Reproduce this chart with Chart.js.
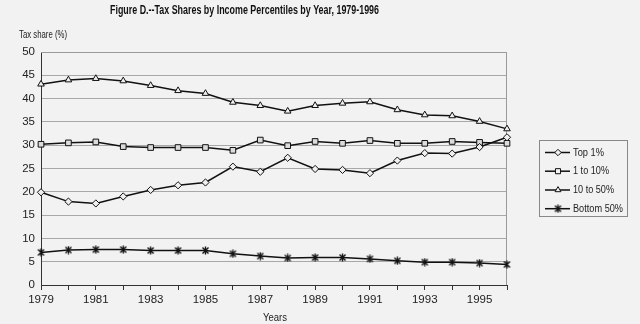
<!DOCTYPE html>
<html lang="en">
  <head>
    <meta charset="UTF-8" />
    <title>Tax Shares by Income Percentiles</title>
    <script src="https://cdn.jsdelivr.net/npm/chart.js"></script>
    <style>
      body {
        margin: 0;
        background: #f2f2f2;
      }
      #wrap {
        width: 640px;
        height: 324px;
      }
    </style>
  </head>
  <body>
    <div id="wrap"><canvas id="taxChart" width="640" height="324"></canvas></div>

    <script>
      // data
      const years = [
        "1979", "1980", "1981", "1982", "1983", "1984", "1985", "1986", "1987",
        "1988", "1989", "1990", "1991", "1992", "1993", "1994", "1995", "1996",
      ];
      const top1 = [19.9, 17.9, 17.5, 19.0, 20.4, 21.4, 22.0, 25.4, 24.3, 27.3, 24.9, 24.7, 24.0, 26.7, 28.3, 28.2, 29.6, 31.7];
      const p1to10 = [30.2, 30.5, 30.7, 29.7, 29.5, 29.5, 29.5, 28.9, 31.1, 29.9, 30.8, 30.4, 31.0, 30.4, 30.4, 30.8, 30.6, 30.4];
      const p10to50 = [43.1, 44.0, 44.3, 43.8, 42.8, 41.7, 41.1, 39.2, 38.5, 37.3, 38.5, 39.0, 39.3, 37.6, 36.5, 36.3, 35.1, 33.5];
      const bottom50 = [7.0, 7.5, 7.6, 7.6, 7.4, 7.4, 7.4, 6.7, 6.2, 5.8, 5.9, 5.9, 5.6, 5.2, 4.9, 4.9, 4.7, 4.4];
      const seriesNames = ["Top 1%", "1 to 10%", "10 to 50%", "Bottom 50%"];

      const FONT = '"Liberation Sans Narrow", "Arial Narrow", Arial, sans-serif';
      const BG = "#f2f2f2";

      // asterisk-like marker (X with vertical bar)
      function starMarker() {
        const c = document.createElement("canvas");
        c.width = 9;
        c.height = 9;
        const g = c.getContext("2d");
        g.strokeStyle = "#111";
        g.lineWidth = 1.4;
        g.beginPath();
        g.moveTo(1.5, 1.5); g.lineTo(7.5, 7.5);
        g.moveTo(7.5, 1.5); g.lineTo(1.5, 7.5);
        g.moveTo(4.5, 0.5); g.lineTo(4.5, 8.5);
        g.stroke();
        return c;
      }
      const star = starMarker();
      const styles = [
        { pointStyle: "rectRot", radius: 3.6 },
        { pointStyle: "rect", radius: 4 },
        { pointStyle: "triangle", radius: 3.8 },
        { pointStyle: star, radius: 4 },
      ];

      function fitText(ctx, text, x, y, width, font) {
        ctx.save();
        ctx.font = font;
        const w = ctx.measureText(text).width;
        ctx.translate(x, y);
        ctx.scale(width / w, 1);
        ctx.textAlign = "left";
        ctx.textBaseline = "middle";
        ctx.fillText(text, 0, 0);
        ctx.restore();
      }

      const decor = {
        id: "decor",
        beforeDraw(chart) {
          const ctx = chart.ctx;
          ctx.save();
          ctx.fillStyle = BG;
          ctx.fillRect(0, 0, chart.width, chart.height);
          ctx.restore();
        },
        beforeDatasetsDraw(chart) {
          const a = chart.chartArea;
          const ctx = chart.ctx;
          ctx.save();
          ctx.strokeStyle = "#9a9a9a";
          ctx.lineWidth = 1;
          ctx.beginPath();
          ctx.moveTo(a.left, a.top + 0.5);
          ctx.lineTo(a.right - 0.5, a.top + 0.5);
          ctx.lineTo(a.right - 0.5, a.bottom);
          ctx.stroke();
          ctx.restore();
        },
        afterDraw(chart) {
          const ctx = chart.ctx;
          ctx.save();
          ctx.fillStyle = "#111";
          fitText(ctx, "Figure D.--Tax Shares by Income Percentiles by Year, 1979-1996", 110, 11, 269, "bold 12px " + FONT);
          ctx.fillStyle = "#222";
          fitText(ctx, "Tax share (%)", 19, 35, 48, "11px " + FONT);
          fitText(ctx, "Years", 263, 318, 24, "11px " + FONT);

          // legend box
          ctx.strokeStyle = "#888";
          ctx.lineWidth = 1;
          ctx.strokeRect(539.5, 140.5, 88, 76);
          const rows = [152.5, 171.2, 190, 208.7];
          const widths = [31, 36, 41, 50];
          seriesNames.forEach((name, i) => {
            const y = rows[i];
            ctx.strokeStyle = "#111";
            ctx.lineWidth = 1.5;
            ctx.beginPath();
            ctx.moveTo(545, y);
            ctx.lineTo(570, y);
            ctx.stroke();
            ctx.fillStyle = BG;
            ctx.lineWidth = 1;
            Chart.helpers.drawPoint(ctx, { pointStyle: styles[i].pointStyle, radius: styles[i].radius - 0.4, borderWidth: 1, rotation: 0 }, 558, y);
            ctx.fillStyle = "#222";
            fitText(ctx, name, 573, y, widths[i], "11.5px " + FONT);
          });
          ctx.restore();
        },
      };

      function ds(label, data, i) {
        return {
          label: label,
          data: data,
          borderColor: "#111",
          borderWidth: 1.5,
          tension: 0,
          pointStyle: styles[i].pointStyle,
          pointRadius: styles[i].radius,
          pointBorderColor: "#111",
          pointBorderWidth: 1,
          pointBackgroundColor: i === 1 ? "#dcdcdc" : "#f0f0f0",
        };
      }

      new Chart(document.getElementById("taxChart"), {
        type: "line",
        data: {
          labels: years,
          datasets: [
            ds(seriesNames[0], top1, 0),
            ds(seriesNames[1], p1to10, 1),
            ds(seriesNames[2], p10to50, 2),
            ds(seriesNames[3], bottom50, 3),
          ],
        },
        options: {
          responsive: false,
          animation: false,
          layout: { padding: { top: 52, right: 133, left: 0, bottom: 0 } },
          plugins: {
            legend: { display: false },
            title: { display: false },
            tooltip: { enabled: false },
          },
          scales: {
            x: {
              offset: false,
              afterFit: (s) => { s.height = 39; },
              grid: {
                drawOnChartArea: false,
                drawTicks: true,
                tickLength: 5,
                color: "#333",
              },
              border: { color: "#333", width: 1 },
              ticks: {
                autoSkip: false,
                maxRotation: 0,
                padding: 3,
                color: "#222",
                font: { family: FONT, size: 11.5 },
                callback: (v, i) => (i % 2 === 0 ? years[i] : ""),
              },
            },
            y: {
              min: 0,
              max: 50,
              afterFit: (s) => { s.width = 41; },
              grid: { color: "#a8a8a8", drawTicks: false },
              border: { color: "#333", width: 1 },
              ticks: {
                stepSize: 5,
                padding: 6,
                color: "#222",
                font: { family: FONT, size: 11.5 },
              },
            },
          },
        },
        plugins: [decor],
      });
    </script>
  </body>
</html>
